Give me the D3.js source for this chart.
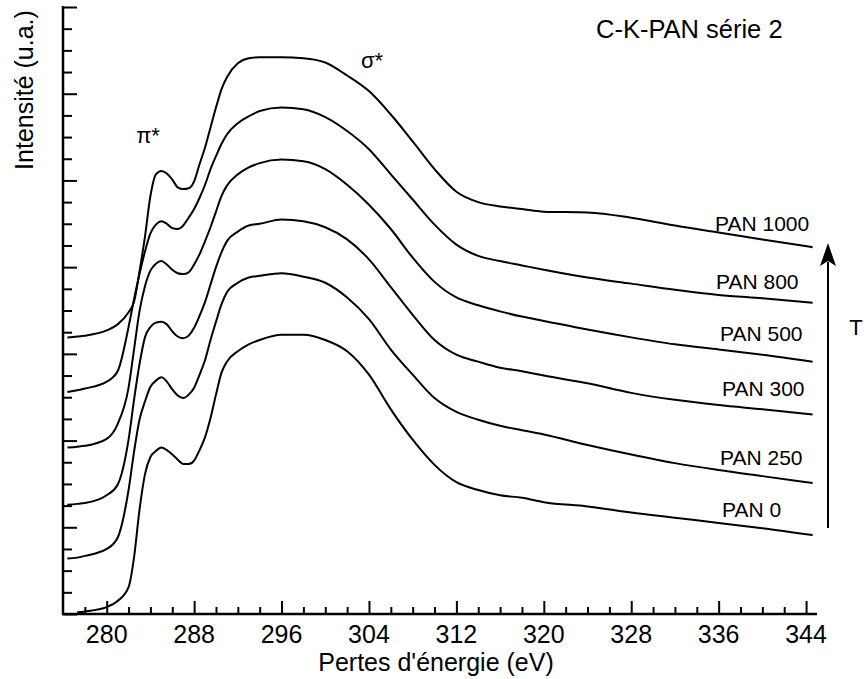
<!DOCTYPE html>
<html><head><meta charset="utf-8">
<script src="https://cdn.jsdelivr.net/npm/d3@7"></script>
<style>html,body{margin:0;padding:0;background:#fff;}svg{display:block;font-family:"Liberation Sans",Arial,sans-serif;}</style>
</head><body>
<svg id="chart" width="864" height="679"></svg>
<script>
// Energy loss grid (eV)
const energy = [276.4, 277.3, 278, 280, 281, 282, 282.5, 283, 283.5, 284, 284.5, 285, 285.5, 286, 286.5, 287, 287.5, 288, 288.5, 289, 289.5, 290, 290.5, 291, 292, 293, 294, 296, 298, 300, 302, 304, 306, 308, 310, 312, 314, 316, 318, 320, 324, 328, 332, 336, 340, 344.6];
// Intensity (a.u., vertically offset spectra)
const pan1000 = [319,320,321,327,334,348,360,395,435,482,507,511,508,501,492,490,491,499,519,538,561,584,605,619,635,641,642,642,641,636,621,603,576,545,513,487,475,470,467,464,463,457,448,440,432,423];
const pan800 = [256,258,260,268,280,331,363,392,418,439,449,453,450,445,444,448,457,467,480,495,513,528,542,553,566,574,580,584,582,573,557,536,507,478,449,426,413,407,402,397,388,381,374,368,364,359];
const pan500 = [192,193,194,202,219,261,305,349,378,396,404,407,403,397,393,392,394,403,415,430,446,464,482,494,507,515,520,524,522,513,495,472,444,411,383,365,356,349,343,338,328,319,311,305,299,291];
const pan300 = [126,127,128,137,149,201,247,288,319,331,336,337,334,326,320,318,321,330,344,360,380,400,417,430,441,448,450,455,453,446,432,409,377,345,316,299,291,284,280,275,266,255,247,241,236,230];
const pan250 = [64,65,67,75,88,143,187,224,245,262,269,273,268,259,252,249,253,261,276,293,316,337,357,371,382,388,390,393,389,382,365,340,305,276,249,233,224,217,212,207,195,184,174,166,159,151];
const pan0 = [null,2,3,8,15,31,65,120,161,181,188,192,189,184,178,173,173,177,189,204,226,253,278,291,303,311,316,322,322,316,303,276,236,201,172,152,143,137,134,129,124,117,111,105,99,91];
const seriesNames = ["PAN 1000","PAN 800","PAN 500","PAN 300","PAN 250","PAN 0"];
const seriesValues = [pan1000, pan800, pan500, pan300, pan250, pan0];
const xMajorTicks = [280, 288, 296, 304, 312, 320, 328, 336, 344];
const title = "C-K-PAN série 2";

const svg = d3.select("#chart");
const x = d3.scaleLinear().domain([276, 345]).range([63, 817]);
const y = d3.scaleLinear().domain([0, 700]).range([614, 7]);

// X axis
const xMinor = d3.range(278, 345, 2).filter(v => !xMajorTicks.includes(v));
const xAxisMinor = d3.axisTop(x).tickValues(xMinor).tickSize(7).tickFormat("");
const xAxisMajor = d3.axisTop(x).tickValues(xMajorTicks).tickSize(13).tickFormat("");
const gx = svg.append("g").attr("transform", "translate(0,614)");
gx.append("g").call(xAxisMinor);
gx.append("g").call(xAxisMajor);
gx.selectAll(".domain").remove();
gx.selectAll("line").attr("stroke", "#000").attr("stroke-width", 2);
svg.append("line").attr("x1", 62).attr("x2", 817).attr("y1", 614).attr("y2", 614).attr("stroke", "#000").attr("stroke-width", 2.5);
svg.append("g").selectAll("text").data(xMajorTicks).join("text")
  .attr("x", d => x(d)).attr("y", 643).attr("text-anchor", "middle")
  .attr("font-size", 25).text(d => d);

// Y axis
const yMajor = d3.range(0, 701, 100);
const yMinor = d3.range(0, 701, 25).filter(v => v % 100 !== 0);
const gy = svg.append("g").attr("transform", "translate(63,0)");
gy.append("g").call(d3.axisRight(y).tickValues(yMinor).tickSize(9).tickFormat(""));
gy.append("g").call(d3.axisRight(y).tickValues(yMajor).tickSize(14).tickFormat(""));
gy.selectAll(".domain").remove();
gy.selectAll("line").attr("stroke", "#000").attr("stroke-width", 2);
svg.append("line").attr("x1", 63).attr("x2", 63).attr("y1", 6).attr("y2", 615).attr("stroke", "#000").attr("stroke-width", 2.5);

// Axis titles
svg.append("text").attr("x", 436).attr("y", 671).attr("text-anchor", "middle").attr("font-size", 25).text("Pertes d'énergie (eV)");
svg.append("text").attr("transform", "translate(33,90) rotate(-90)").attr("text-anchor", "middle").attr("font-size", 25).text("Intensité (u.a.)");

// Curves
const line = d3.line().defined(d => d[1] != null).x(d => x(d[0])).y(d => y(d[1])).curve(d3.curveMonotoneX);
seriesValues.forEach(vals => {
  svg.append("path").datum(energy.map((e, i) => [e, vals[i]]))
    .attr("d", line).attr("fill", "none").attr("stroke", "#000").attr("stroke-width", 2).attr("stroke-linejoin", "round");
});

// Series labels
const labelX = [715, 716, 720, 722, 720, 722];
const labelY = [231, 289, 341, 396, 465, 517];
svg.append("g").selectAll("text").data(seriesNames).join("text")
  .attr("x", (d, i) => labelX[i]).attr("y", (d, i) => labelY[i]).attr("font-size", 21).text(d => d);

// Annotations
svg.append("text").attr("x", 596).attr("y", 38).attr("font-size", 25.5).text(title);
svg.append("text").attr("x", 148).attr("y", 143).attr("text-anchor", "middle").attr("font-size", 22).text("π*");
svg.append("text").attr("x", 372).attr("y", 68).attr("text-anchor", "middle").attr("font-size", 22).text("σ*");

// Temperature arrow
svg.append("line").attr("x1", 828).attr("x2", 828).attr("y1", 528).attr("y2", 262).attr("stroke", "#000").attr("stroke-width", 2);
svg.append("path").attr("d", "M828,243 L820,266 L828,261 L836,266 Z").attr("fill", "#000");
svg.append("text").attr("x", 856).attr("y", 335).attr("text-anchor", "middle").attr("font-size", 22).text("T");
</script>
</body></html>
